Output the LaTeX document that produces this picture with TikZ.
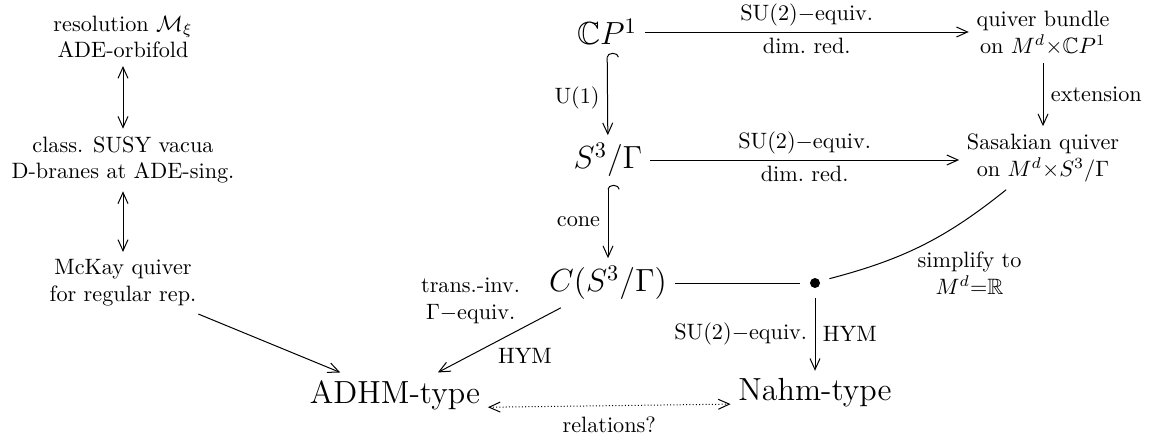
\documentclass[tikz,border=0pt]{standalone}
\usepackage{amsmath,amssymb}
\usetikzlibrary{arrows.meta,calc}
\begin{document}
\begin{tikzpicture}[x=0.45pt,y=-0.45pt,
  >={Straight Barb[length=5pt,width=4.5pt]},
  big/.style={font=\Large},
  txt/.style={align=center},
  arr/.style={->, line width=0.45pt},
  harr/.style={{Hooks[right,arc=180,width=10.5pt,length=2pt]}->, line width=0.45pt},
  darr/.style={<->, line width=0.45pt},
  plain/.style={line width=0.45pt},
  lab/.style={inner sep=2.5pt}
]
\useasboundingbox (0,0) rectangle (1155,440);
% left column
\node[txt] (res) at (123,37) {resolution $\mathcal{M}_\xi$\\ADE-orbifold};
\node[txt] (vac) at (123,160) {class. SUSY vacua\\D-branes at ADE-sing.};
\node[txt] (mck) at (123,283) {McKay quiver\\for regular rep.};
% middle
\node[big] (cp) at (607,32) {$\mathbb{C}P^1$};
\node[big] (s3) at (608,160) {$S^3/\Gamma$};
\node[big] (cs) at (608,283) {$C(S^3/\Gamma)$};
\node[circle, fill, inner sep=0pt, minimum size=4.5pt, outer sep=4.5pt] (dot) at (815,283) {};
\node[big] (adhm) at (395,395) {ADHM-type};
\node[big] (nahm) at (815,393) {Nahm-type};
% right column
\node[txt] (qb) at (1043,33) {quiver bundle\\on $M^d{\times}\mathbb{C}P^1$};
\node[txt] (sq) at (1043,158) {Sasakian quiver\\on $M^d{\times}S^3/\Gamma$};
% edges
\draw[darr] (res) -- (vac);
\draw[darr] (vac) -- (mck);
\draw[arr] (mck) -- (adhm);
\draw[arr] (cp) -- (cp -| qb.west)
  node[midway, above, lab] {$\mathrm{SU}(2)-$equiv.}
  node[midway, below, lab] {dim.\ red.};
\draw[arr] (s3) -- (s3 -| sq.west)
  node[midway, above, lab] {$\mathrm{SU}(2)-$equiv.}
  node[midway, below, lab] {dim.\ red.};
\draw[harr] (cp) -- (s3) node[pos=0.55, left] {$\mathrm{U}(1)$};
\draw[harr] (s3) -- (cs) node[midway, left] {cone};
\draw[arr] (qb) -- (sq) node[midway, right] {extension};
\draw[plain] (cs) -- (dot);
\draw[plain] (dot) to[bend right=12]
  node[pos=0.45, anchor=north west, align=center, inner sep=1pt] {simplify to\\$M^d{=}\mathbb{R}$} (sq);
\draw[arr] (dot) -- (nahm)
  node[midway, left] {$\mathrm{SU}(2)-$equiv.}
  node[midway, right] {HYM};
\draw[arr] (cs) -- (adhm)
  node[pos=0.3, anchor=south east, align=center, inner sep=1.5pt] {trans.-inv.\\$\Gamma-$equiv.}
  node[pos=0.55, anchor=north west, inner sep=2pt] {HYM};
\draw[<->, line width=0.45pt, dash pattern=on 0.45pt off 1pt]
  ([yshift=-5.5pt]adhm.east) -- ([yshift=-5pt]nahm.west)
  node[midway, below, inner sep=5pt] {relations?};
\end{tikzpicture}
\end{document}
